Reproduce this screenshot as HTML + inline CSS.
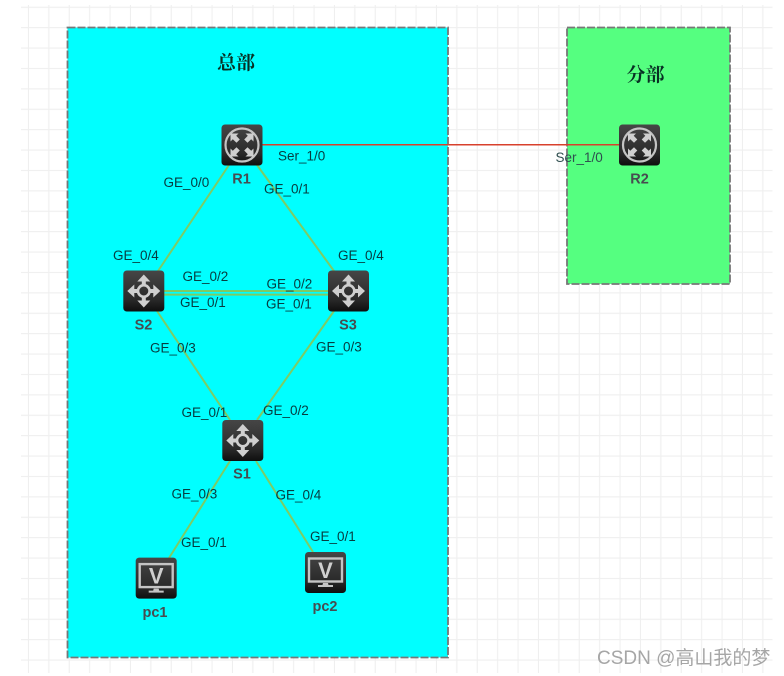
<!DOCTYPE html>
<html>
<head>
<meta charset="utf-8">
<style>
html,body{margin:0;padding:0;background:#fff}
svg{display:block}
.l{font:13.5px "Liberation Sans",sans-serif;fill:#073c40}
.n{font:bold 14.5px "Liberation Sans",sans-serif;fill:#474c50;text-anchor:middle}
.t{font:bold 19px "Liberation Serif","Noto Serif CJK SC",serif;fill:#083024;text-anchor:middle}
.w{font:19px "Liberation Sans","Noto Sans CJK SC",sans-serif;fill:#a6a6a6}
</style>
</head>
<body>
<svg width="784" height="676" viewBox="0 0 784 676" xmlns="http://www.w3.org/2000/svg">
<defs>
<pattern id="g" x="8.6" y="6.7" width="20.4" height="20.4" patternUnits="userSpaceOnUse">
<path d="M20.4 0V20.4M0 0H20.4" stroke="#efefef" stroke-width="2.2" fill="none"/>
</pattern>
<linearGradient id="bg" x1="0" y1="0" x2="0" y2="1">
<stop offset="0" stop-color="#464646"/><stop offset=".7" stop-color="#2a2a2a"/><stop offset="1" stop-color="#0e0e0e"/>
</linearGradient>
<g id="arrow" fill="#cfcfcf">
<path d="M0 -16.5L-6.5 -9.5H-2V-5H2V-9.5H6.5Z"/>
</g>
<g id="darrow" fill="#cfcfcf">
<path d="M-11.5 -11.5H-3.5L-5.8 -9.2L-2.2 -5.5L-5.5 -2.2L-9.2 -5.8L-11.5 -3.5Z"/>
</g>
<g id="router">
<rect width="41" height="41" rx="3.5" fill="url(#bg)"/>
<g transform="translate(20.5 20.5)">
<circle r="16.5" fill="none" stroke="#c4c4c4" stroke-width="2.2"/>
<use href="#darrow"/>
<use href="#darrow" transform="rotate(90)"/>
<use href="#darrow" transform="rotate(180)"/>
<use href="#darrow" transform="rotate(270)"/>
</g>
</g>
<g id="switch">
<rect width="41" height="41" rx="3.5" fill="url(#bg)"/>
<g transform="translate(20.5 20.5)">
<circle r="5.8" fill="none" stroke="#cfcfcf" stroke-width="2.6"/>
<use href="#arrow"/>
<use href="#arrow" transform="rotate(90)"/>
<use href="#arrow" transform="rotate(180)"/>
<use href="#arrow" transform="rotate(270)"/>
</g>
</g>
<g id="pc">
<rect width="41" height="41" rx="3.5" fill="url(#bg)"/>
<rect x="4" y="6.5" width="33" height="23" fill="none" stroke="#c4c4c4" stroke-width="2.4"/>
<text x="20.5" y="26" text-anchor="middle" style="font:bold 22px 'Liberation Sans',sans-serif;fill:#cfcfcf">V</text>
<path d="M18 31H23L23.5 33H28V35H13V33H17.5Z" fill="#c4c4c4"/>
</g>
</defs>

<rect x="21" y="5" width="751.5" height="668" fill="url(#g)"/>

<rect x="67.5" y="27.5" width="380.5" height="630" fill="#00ffff" stroke="#777" stroke-width="1.8" stroke-dasharray="8 2"/>
<rect x="567" y="27.5" width="163" height="256.5" fill="#55ff80" stroke="#777" stroke-width="1.8" stroke-dasharray="8 2"/>

<g stroke="#7ccc66" stroke-width="2" fill="none">
<path d="M229 165L158 271"/>
<path d="M257 165L334 271"/>
<path d="M157 311L230 420"/>
<path d="M334 311L257 420"/>
<path d="M230 461L169 558"/>
<path d="M256 461L313 552"/>
<path d="M164 291H328"/>
<path d="M164 294.6H328"/>
</g>
<path d="M262 144.7H619" stroke="#d8402c" stroke-width="1.5" fill="none"/>

<use href="#router" x="221.5" y="124.5"/>
<use href="#router" x="619" y="124.5"/>
<use href="#switch" x="123.3" y="270.5"/>
<use href="#switch" x="328" y="270.5"/>
<use href="#switch" x="222.3" y="420"/>
<use href="#pc" x="135.7" y="557.6"/>
<use href="#pc" x="305" y="552"/>

<text class="t" x="236" y="69">总部</text>
<text class="t" x="645.5" y="81">分部</text>

<text class="n" x="241.5" y="183.5">R1</text>
<text class="n" x="639.5" y="183.5">R2</text>
<text class="n" x="143.5" y="329.5">S2</text>
<text class="n" x="348" y="329.5">S3</text>
<text class="n" x="242" y="478.5">S1</text>
<text class="n" x="155" y="617">pc1</text>
<text class="n" x="325" y="611">pc2</text>

<text class="l" x="278" y="160.5">Ser_1/0</text>
<text class="l" x="555.5" y="162" style="fill:#2f4f4f">Ser_1/0</text>
<text class="l" x="163.5" y="187">GE_0/0</text>
<text class="l" x="264" y="193.5">GE_0/1</text>
<text class="l" x="113" y="260">GE_0/4</text>
<text class="l" x="338" y="260">GE_0/4</text>
<text class="l" x="182.5" y="281">GE_0/2</text>
<text class="l" x="266.5" y="288.5">GE_0/2</text>
<text class="l" x="180" y="307">GE_0/1</text>
<text class="l" x="266" y="308.5">GE_0/1</text>
<text class="l" x="150" y="352.5">GE_0/3</text>
<text class="l" x="316" y="351.5">GE_0/3</text>
<text class="l" x="181.5" y="417">GE_0/1</text>
<text class="l" x="263" y="415">GE_0/2</text>
<text class="l" x="171.5" y="498.5">GE_0/3</text>
<text class="l" x="275.5" y="499.5">GE_0/4</text>
<text class="l" x="181" y="547">GE_0/1</text>
<text class="l" x="310" y="541">GE_0/1</text>

<text class="w" x="597" y="664">CSDN @高山我的梦</text>
</svg>
</body>
</html>
